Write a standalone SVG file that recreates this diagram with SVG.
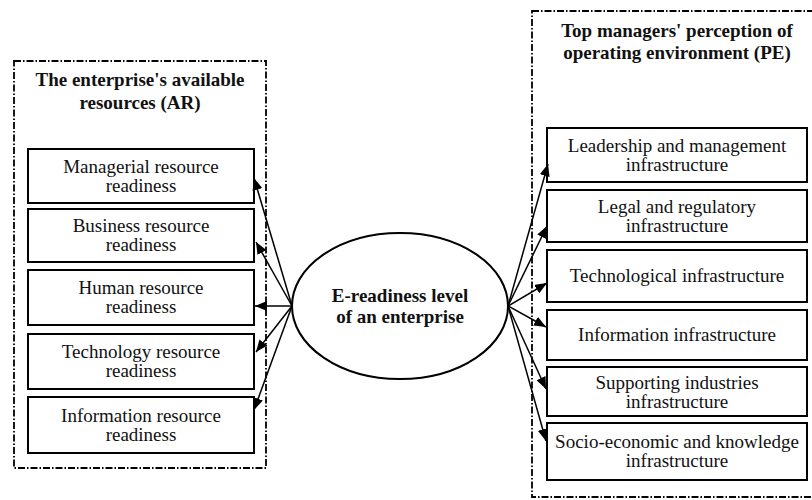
<svg xmlns="http://www.w3.org/2000/svg" width="812" height="500" viewBox="0 0 812 500">
<style>
.frame{fill:none;stroke:#000;stroke-width:1.8;stroke-dasharray:7 2 1.5 2}
.box{fill:#fff;stroke:#000;stroke-width:2}
.t{font-family:"Liberation Serif","Times New Roman",serif;font-size:19px;text-anchor:middle;fill:#111}
.b{font-weight:bold}
.c{fill:none;stroke:#000;stroke-width:1.5}
</style>
<defs>
<marker id="ah" viewBox="0 0 12 10" refX="12" refY="5" markerWidth="12" markerHeight="10" markerUnits="userSpaceOnUse" orient="auto">
<path d="M0,0 L12,5 L0,10 Z" fill="#000"/>
</marker>
</defs>
<rect width="812" height="500" fill="#fff"/>
<g id="frame-ar">
<rect class="frame" x="14" y="61" width="252" height="407"/>
<text class="t b" x="140" y="86">The enterprise's available</text>
<text class="t b" x="140" y="109">resources (AR)</text>
</g>
<g id="frame-pe">
<rect class="frame" x="532" y="11" width="284" height="486"/>
<text class="t b" x="677" y="37">Top managers' perception of</text>
<text class="t b" x="677" y="59">operating environment (PE)</text>
</g>
<g id="ar1"><rect class="box" x="28" y="149" width="226" height="54"/><text class="t" x="141" y="173">Managerial resource</text><text class="t" x="141" y="192">readiness</text></g>
<g id="ar2"><rect class="box" x="28" y="209" width="226" height="53"/><text class="t" x="141" y="232">Business resource</text><text class="t" x="141" y="251">readiness</text></g>
<g id="ar3"><rect class="box" x="28" y="270" width="226" height="55"/><text class="t" x="141" y="294">Human resource</text><text class="t" x="141" y="313">readiness</text></g>
<g id="ar4"><rect class="box" x="28" y="334" width="226" height="55"/><text class="t" x="141" y="358">Technology resource</text><text class="t" x="141" y="377">readiness</text></g>
<g id="ar5"><rect class="box" x="28" y="397" width="226" height="56"/><text class="t" x="141" y="422">Information resource</text><text class="t" x="141" y="441">readiness</text></g>
<g id="pe1"><rect class="box" x="547" y="128" width="260" height="54"/><text class="t" x="677" y="152">Leadership and management</text><text class="t" x="677" y="171">infrastructure</text></g>
<g id="pe2"><rect class="box" x="547" y="190" width="260" height="52"/><text class="t" x="677" y="213">Legal and regulatory</text><text class="t" x="677" y="232">infrastructure</text></g>
<g id="pe3"><rect class="box" x="547" y="250" width="260" height="52"/><text class="t" x="677" y="282">Technological infrastructure</text></g>
<g id="pe4"><rect class="box" x="547" y="310" width="260" height="50"/><text class="t" x="677" y="341">Information infrastructure</text></g>
<g id="pe5"><rect class="box" x="547" y="367" width="260" height="49"/><text class="t" x="677" y="389">Supporting industries</text><text class="t" x="677" y="408">infrastructure</text></g>
<g id="pe6"><rect class="box" x="547" y="423" width="260" height="57"/><text class="t" x="677" y="448">Socio-economic and knowledge</text><text class="t" x="677" y="467">infrastructure</text></g>
<g id="center"><ellipse cx="400" cy="306" rx="108" ry="73" fill="#fff" stroke="#000" stroke-width="2"/><text class="t b" x="400" y="302">E-readiness level</text><text class="t b" x="400" y="323">of an enterprise</text></g>
<g id="connectors">
<line class="c" x1="292" y1="306" x2="254" y2="178" marker-end="url(#ah)"/>
<line class="c" x1="292" y1="306" x2="256" y2="242" marker-end="url(#ah)"/>
<line class="c" x1="292" y1="306" x2="255" y2="306" marker-end="url(#ah)"/>
<line class="c" x1="292" y1="306" x2="256" y2="352" marker-end="url(#ah)"/>
<line class="c" x1="292" y1="306" x2="254" y2="410" marker-end="url(#ah)"/>
<line class="c" x1="508" y1="306" x2="548" y2="164" marker-end="url(#ah)"/>
<line class="c" x1="508" y1="306" x2="547" y2="226" marker-end="url(#ah)"/>
<line class="c" x1="508" y1="306" x2="547" y2="283" marker-end="url(#ah)"/>
<line class="c" x1="508" y1="306" x2="546" y2="327" marker-end="url(#ah)"/>
<line class="c" x1="508" y1="306" x2="546" y2="389" marker-end="url(#ah)"/>
<line class="c" x1="508" y1="306" x2="546" y2="441" marker-end="url(#ah)"/>
</g>
</svg>
